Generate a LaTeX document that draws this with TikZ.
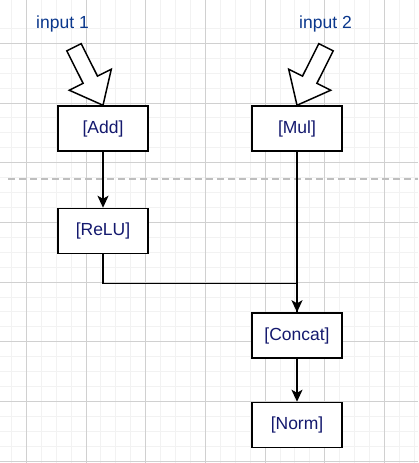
\documentclass[tikz,border=0pt]{standalone}
\usepackage{fontspec}
\setmainfont{Liberation Sans}
\usetikzlibrary{arrows.meta,calc}
\definecolor{boxtext}{RGB}{20,25,110}
\definecolor{labeltext}{RGB}{10,55,140}
\definecolor{gridmajor}{RGB}{208,208,208}
\definecolor{gridminor}{RGB}{242,242,242}
\definecolor{sepline}{RGB}{190,190,190}
\tikzset{
  opbox/.style={draw=black, line width=1.5pt, fill=white, minimum width=90pt, minimum height=45pt,
    inner sep=0pt, text=boxtext, font=\fontsize{17.5}{21}\selectfont},
  inlabel/.style={text=labeltext, font=\fontsize{17.5}{21}\selectfont, inner sep=0pt},
  conn/.style={draw=black, line width=1.5pt, -{Stealth[length=12pt,width=11pt,inset=3pt]}},
  plainconn/.style={draw=black, line width=1.5pt},
  flexarrow/.style={draw=black, line width=1.5pt, fill=white, line join=miter},
}
\begin{document}
\begin{tikzpicture}[x=1pt,y=-1pt]
\useasboundingbox (0,0) rectangle (418,463);
\fill[white] (0,0) rectangle (418,463);
% grid
\foreach \i in {-1,...,28} {
  \draw[gridminor, line width=1pt] ({26.3+14.925*\i},0) -- ({26.3+14.925*\i},463);
  \draw[gridminor, line width=1pt] (0,{43.3+14.925*\i}) -- (418,{43.3+14.925*\i});
}
\foreach \i in {0,...,7} {
  \draw[gridmajor, line width=1pt] ({26.3+59.7*\i},0) -- ({26.3+59.7*\i},463);
  \draw[gridmajor, line width=1pt] (0,{43.3+59.7*\i}) -- (418,{43.3+59.7*\i});
}
% separator
\draw[sepline, line width=2pt, dash pattern=on 7pt off 4pt] (8,179) -- (418,179);

% nodes
\node[opbox] (add) at (103,128.5) {[Add]};
\node[opbox] (mul) at (297,128.5) {[Mul]};
\node[opbox] (relu) at (103,231) {[ReLU]};
\node[opbox] (concat) at (297,335.5) {[Concat]};
\node[opbox] (norm) at (297,425) {[Norm]};

\node[inlabel] (in1) at (62.5,24) {input 1};
\node[inlabel] (in2) at (325.5,24) {input 2};

% flex arrows
\begin{scope}[shift={(add.north)}]
  \draw[flexarrow] (-21.8,-61.6) -- (-5.5,-29.1) -- (8.3,-36) -- (0,0) -- (-33.7,-15) -- (-19.9,-21.9) -- (-36.2,-54.4) -- cycle;
\end{scope}
\begin{scope}[shift={(mul.north)}]
  \draw[flexarrow] (21.8,-61.6) -- (5.5,-29.1) -- (-8.3,-36) -- (0,0) -- (33.7,-15) -- (19.9,-21.9) -- (36.2,-54.4) -- cycle;
\end{scope}

% connectors
\coordinate (join) at ($(relu.south)+(0,29.1)$);
\draw[conn] (add) -- (relu);
\draw[plainconn] (relu.south) -- (join) -| (concat.north);
\draw[conn] (mul) -- (concat);
\draw[conn] (concat) -- (norm);
\end{tikzpicture}
\end{document}
